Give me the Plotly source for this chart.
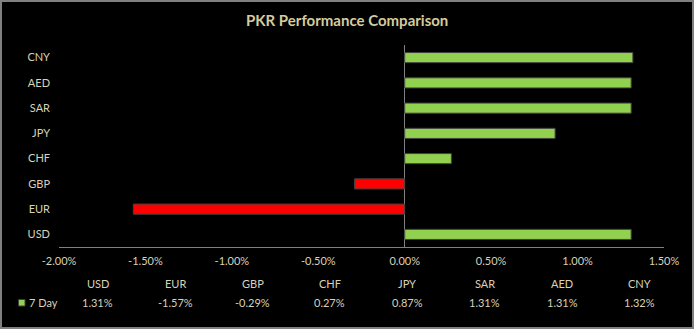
import plotly.graph_objects as go

# ---- data ----
categories = ["USD", "EUR", "GBP", "CHF", "JPY", "SAR", "AED", "CNY"]
values_7day = [1.31, -1.57, -0.29, 0.27, 0.87, 1.31, 1.31, 1.32]
series_name = "7 Day"
x_tick_vals = [-2.0, -1.5, -1.0, -0.5, 0.0, 0.5, 1.0, 1.5]
x_tick_text = [f"{v:.2f}%" for v in x_tick_vals]
title_text = "PKR Performance Comparison"

# ---- style ----
W, H = 694, 329
ML, MR, MT, MB = 59, 30, 45, 82
PW, PH = W - ML - MR, H - MT - MB
GREEN = "#92D050"
RED = "#FF0000"
TXT = "#D9D2B8"
TITLE = "#D6CB9E"
GREY = "#808080"
FONT = "Lato, Liberation Sans, sans-serif"

colors = [GREEN if v >= 0 else RED for v in values_7day]

fig = go.Figure()
fig.add_trace(go.Bar(
    x=values_7day, y=categories, orientation="h",
    marker=dict(color=colors, line=dict(color="#404040", width=1)),
    name=series_name, showlegend=False,
))

def px_x(px):
    return (px - ML) / PW

def px_y(py):
    return (H - MB - py) / PH

annotations = [dict(
    text=f"<b>{title_text}</b>", xref="paper", yref="paper",
    x=px_x(347), y=px_y(20), xanchor="center", yanchor="middle",
    showarrow=False, font=dict(family=FONT, size=15, color=TITLE),
)]

col_w = 77.4
for i, (cat, val) in enumerate(zip(categories, values_7day)):
    cx = ML + col_w * i + col_w / 2
    annotations.append(dict(
        text=cat, xref="paper", yref="paper", x=px_x(cx), y=px_y(283),
        xanchor="center", yanchor="middle", showarrow=False,
        font=dict(family=FONT, size=11, color=TXT)))
    annotations.append(dict(
        text=f"{val:.2f}%", xref="paper", yref="paper", x=px_x(cx), y=px_y(302),
        xanchor="center", yanchor="middle", showarrow=False,
        font=dict(family=FONT, size=11, color=TXT)))

annotations.append(dict(
    text=series_name, xref="paper", yref="paper", x=px_x(27), y=px_y(302),
    xanchor="left", yanchor="middle", showarrow=False,
    font=dict(family=FONT, size=11, color=TXT)))

shapes = [
    dict(type="rect", xref="paper", yref="paper",
         x0=px_x(18.5), x1=px_x(25), y0=px_y(299.5), y1=px_y(306),
         fillcolor=GREEN, line=dict(color="#404040", width=1)),
    dict(type="rect", xref="paper", yref="paper",
         x0=px_x(1), x1=px_x(W - 1), y0=px_y(1), y1=px_y(H - 1),
         fillcolor="rgba(0,0,0,0)", line=dict(color=GREY, width=2)),
]

fig.update_layout(
    width=W, height=H,
    margin=dict(l=ML, r=MR, t=MT, b=MB, autoexpand=False),
    paper_bgcolor="#000000", plot_bgcolor="#000000",
    font=dict(family=FONT, size=11, color=TXT),
    bargap=0.6,
    annotations=annotations, shapes=shapes,
    showlegend=False,
)
fig.update_xaxes(
    range=[-2, 1.5], tickvals=x_tick_vals, ticktext=x_tick_text,
    showgrid=False, zeroline=True, zerolinecolor=GREY, zerolinewidth=1,
    showline=True, linecolor=GREY, linewidth=1, ticks="", ticklabelstandoff=4,
    tickfont=dict(family=FONT, size=11, color=TXT), fixedrange=True,
)
fig.update_yaxes(
    categoryorder="array", categoryarray=categories,
    showgrid=False, showline=False, ticks="", ticklabelstandoff=8,
    tickfont=dict(family=FONT, size=11, color=TXT), fixedrange=True,
)

fig.write_html("out.html")
